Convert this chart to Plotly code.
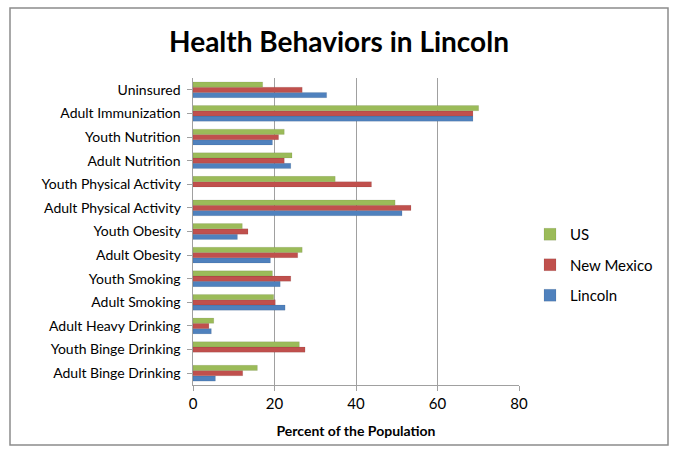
import plotly.graph_objects as go

categories = ["Uninsured", "Adult Immunization", "Youth Nutrition", "Adult Nutrition",
              "Youth Physical Activity", "Adult Physical Activity", "Youth Obesity",
              "Adult Obesity", "Youth Smoking", "Adult Smoking", "Adult Heavy Drinking",
              "Youth Binge Drinking", "Adult Binge Drinking"]
us = [17.1, 70.1, 22.4, 24.3, 34.9, 49.6, 12.1, 26.8, 19.5, 19.8, 5.1, 26.1, 15.8]
new_mexico = [26.8, 68.7, 21.0, 22.4, 43.8, 53.5, 13.5, 25.7, 24.0, 20.2, 3.9, 27.5, 12.2]
lincoln = [32.8, 68.7, 19.5, 24.0, None, 51.3, 10.9, 19.0, 21.4, 22.6, 4.5, None, 5.5]
x_ticks = [0, 20, 40, 60, 80]

font = "Lato"
fig = go.Figure()
for rank, name, vals, col in [(3, "Lincoln", lincoln, "#4F81BD"),
                              (2, "New Mexico", new_mexico, "#C0504D"),
                              (1, "US", us, "#9BBB59")]:
    fig.add_trace(go.Bar(y=categories, x=vals, name=name, orientation="h", legendgroup=name,
                         legendrank=rank,
                         marker=dict(color=col, line=dict(color="rgba(0,0,0,0.15)", width=0.5))))

W, H = 678, 459
l, r, t, b = 193, 159, 78, 74
pw, ph = W - l - r, H - t - b
def px(x): return (x - l) / pw
def py(y): return (H - b - y) / ph

fig.update_layout(
    width=W, height=H, margin=dict(l=l, r=r, t=t, b=b),
    paper_bgcolor="white", plot_bgcolor="white",
    barmode="group", bargap=0.33, bargroupgap=0,
    font=dict(family=font, size=14, color="black"),
    title=dict(text="<b>Health Behaviors in Lincoln</b>", x=0.5, xanchor="center",
               y=1 - 42 / H, yanchor="middle", font=dict(size=28, family=font)),
    legend=dict(traceorder="grouped", x=px(530), y=py(218), xanchor="left", yanchor="top",
                font=dict(size=15, family=font), itemwidth=30, tracegroupgap=8,
                bgcolor="rgba(0,0,0,0)"),
    xaxis=dict(range=[0, 80], tickvals=x_ticks, showgrid=True, gridcolor="#A0A0A0", gridwidth=1,
               showline=True, linecolor="#A0A0A0", ticks="outside", ticklen=5, tickcolor="#A0A0A0",
               zeroline=False, tickfont=dict(size=15),
               title=dict(text="<b>Percent of the Population</b>", font=dict(size=14), standoff=15)),
    yaxis=dict(categoryorder="array", categoryarray=categories[::-1], showline=True,
               linecolor="#A0A0A0", ticks="outside", ticklen=5, tickcolor="#A0A0A0",
               showgrid=False, tickfont=dict(size=14), ticksuffix=" "),
    shapes=[dict(type="rect", xref="paper", yref="paper", x0=px(10), x1=px(668),
                 y0=py(445), y1=py(8), line=dict(color="#8C8C8C", width=1.5))],
)
fig.write_html("out.html")
